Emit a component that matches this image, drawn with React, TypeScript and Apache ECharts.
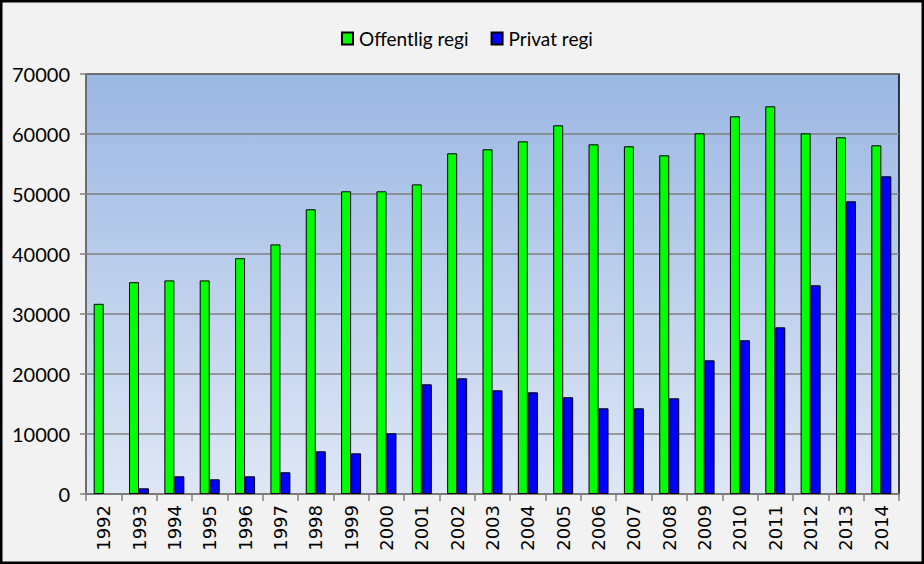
import React, { useEffect, useRef } from "react";
import * as echarts from "echarts";

const years = [
  "1992", "1993", "1994", "1995", "1996", "1997", "1998", "1999", "2000", "2001", "2002", "2003",
  "2004", "2005", "2006", "2007", "2008", "2009", "2010", "2011", "2012", "2013", "2014",
];
const offentligRegi = [
  31700, 35300, 35600, 35600, 39300, 41600, 47450, 50450, 50450, 51600, 56780, 57450,
  58780, 61450, 58280, 57950, 56450, 60110, 62950, 64610, 60110, 59450, 58110,
];
const privatRegi = [
  null, 950, 2950, 2450, 2950, 3620, 7120, 6780, 10120, 18280, 19280, 17280,
  16950, 16120, 14280, 14280, 15950, 22280, 25620, 27780, 34780, 48780, 52950,
];
const seriesNames = ["Offentlig regi", "Privat regi"];

export default function App() {
  const ref = useRef<HTMLDivElement>(null);
  useEffect(() => {
    document.body.style.margin = "0";
    const chart = echarts.init(ref.current!, null, { renderer: "svg" });
    chart.setOption({
      animation: false,
      backgroundColor: "#f2f2f2",
      graphic: [
        {
          type: "rect",
          z: 100,
          silent: true,
          shape: { x: 1, y: 1, width: 922, height: 562 },
          style: { fill: "none", stroke: "#000", lineWidth: 3 },
        },
      ],
      legend: {
        top: 24,
        left: 336,
        itemWidth: 11,
        itemHeight: 12,
        itemGap: 22,
        icon: "rect",
        textStyle: { fontFamily: "Lato", fontSize: 19, color: "#000", padding: [0, 0, 0, 1] },
        data: seriesNames,
      },
      grid: {
        left: 86,
        right: 25,
        top: 74,
        bottom: 70,
        show: true,
        borderColor: "#000",
        borderWidth: 1.5,
        backgroundColor: new echarts.graphic.LinearGradient(0, 0, 0, 1, [
          { offset: 0, color: "#9bb7e3" },
          { offset: 1, color: "#dfe7f5" },
        ]),
      },
      xAxis: {
        type: "category",
        data: years,
        boundaryGap: true,
        axisLine: { show: true, lineStyle: { color: "#808080", width: 1.5 } },
        axisTick: { show: true, length: 7, lineStyle: { color: "#808080", width: 1.5 } },
        axisLabel: {
          rotate: 90,
          margin: 11,
          fontFamily: "DejaVu Sans",
          fontSize: 18,
          color: "#000",
          interval: 0,
        },
      },
      yAxis: {
        type: "value",
        min: 0,
        max: 70000,
        interval: 10000,
        axisLine: { show: true, lineStyle: { color: "#808080", width: 1.5 } },
        axisTick: { show: true, length: 6, lineStyle: { color: "#808080", width: 1.5 } },
        splitLine: { show: true, lineStyle: { color: "#808080", width: 1.5 } },
        axisLabel: {
          margin: 16,
          fontFamily: "Lato",
          fontSize: 20,
          color: "#000",
          formatter: (v: number) => String(v),
        },
      },
      series: [
        {
          name: seriesNames[0],
          type: "bar",
          data: offentligRegi,
          barWidth: 10,
          barGap: "0%",
          itemStyle: { color: "#00ff00", borderColor: "#000", borderWidth: 1 },
        },
        {
          name: seriesNames[1],
          type: "bar",
          data: privatRegi,
          barWidth: 10,
          barGap: "0%",
          itemStyle: { color: "#0000ff", borderColor: "#000", borderWidth: 1 },
        },
      ],
    });
    return () => chart.dispose();
  }, []);
  return (
    <div
      ref={ref}
      style={{ position: "absolute", left: 0, top: 0, width: 924, height: 564 }}
    />
  );
}
